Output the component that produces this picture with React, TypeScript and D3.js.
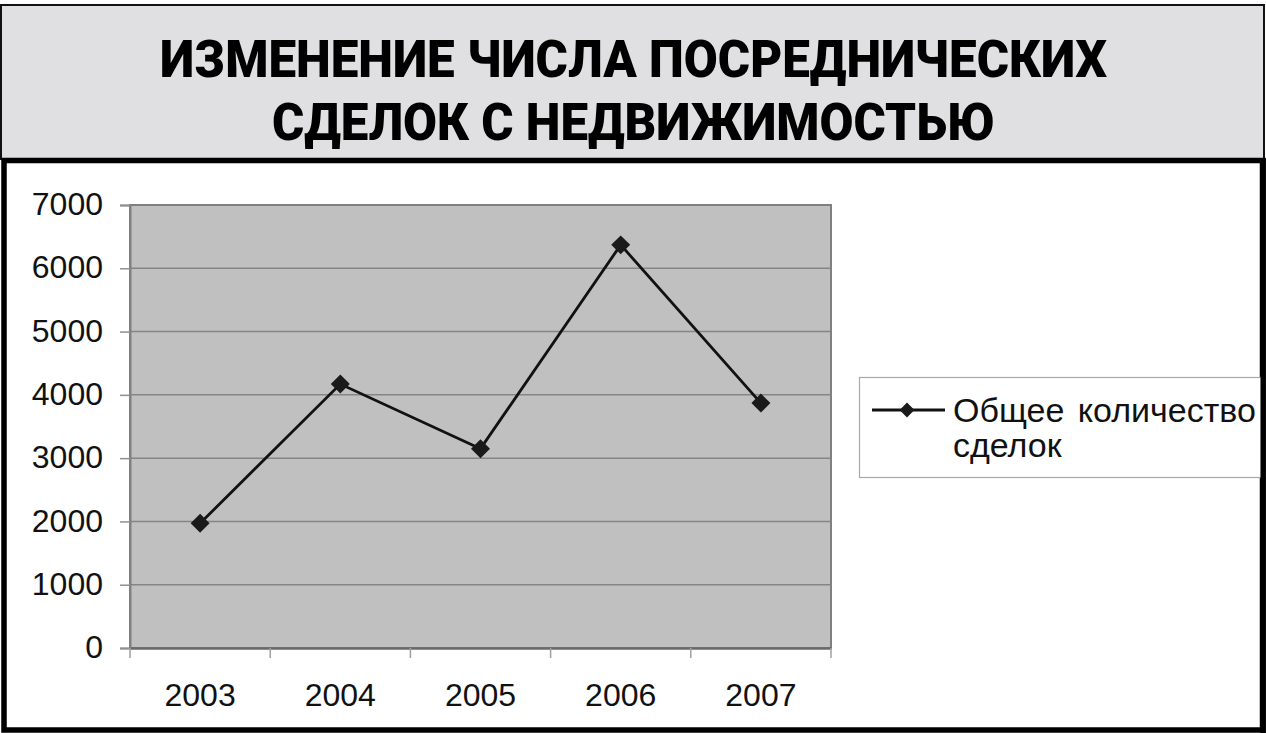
import * as d3 from "d3";
import { useEffect, useRef } from "react";

// chart data
const years = ["2003", "2004", "2005", "2006", "2007"];
const deals = [1970, 4170, 3150, 6370, 3870];
const yTicks = [0, 1000, 2000, 3000, 4000, 5000, 6000, 7000];
const titleLines = ["ИЗМЕНЕНИЕ ЧИСЛА ПОСРЕДНИЧЕСКИХ", "СДЕЛОК С НЕДВИЖИМОСТЬЮ"];
const legendLines = ["Общее количество", "сделок"];

function Chart() {
    const ref = useRef(null);

    useEffect(() => {
        const W = 1266, H = 733;
        const svg = d3.select(ref.current);
        svg.selectAll("*").remove();

        // title panel
        svg.append("rect")
            .attr("x", 1).attr("y", 5).attr("width", 1263).attr("height", 154)
            .attr("fill", "#e0e0e2").attr("stroke", "#111").attr("stroke-width", 2);

        const titleX = [[160, 947], [272, 723]];
        svg.selectAll(".title")
            .data(titleLines)
            .enter()
            .append("text")
            .attr("class", "title")
            .attr("x", (d, i) => titleX[i][0])
            .attr("y", (d, i) => i === 0 ? 77 : 140)
            .attr("textLength", (d, i) => titleX[i][1])
            .attr("lengthAdjust", "spacingAndGlyphs")
            .attr("font-family", "Roboto, 'DejaVu Sans', sans-serif")
            .attr("font-weight", 900)
            .attr("font-size", 51)
            .attr("fill", "#000")
            .text(d => d);

        // chart panel
        svg.append("rect")
            .attr("x", 4).attr("y", 160.5).attr("width", 1258.5).attr("height", 569.5)
            .attr("fill", "#fff").attr("stroke", "#000").attr("stroke-width", 5.5);

        const margin = { left: 130, right: W - 831, top: 205, bottom: H - 648 };

        const x = d3.scaleBand()
            .domain(years)
            .range([margin.left, W - margin.right])
            .padding(0);

        const y = d3.scaleLinear()
            .domain([0, 7000])
            .range([H - margin.bottom, margin.top]);

        // plot area
        svg.append("rect")
            .attr("x", margin.left).attr("y", y(7000))
            .attr("width", x.range()[1] - margin.left).attr("height", y(0) - y(7000))
            .attr("fill", "#c0c0c0").attr("stroke", "#808080").attr("stroke-width", 2);

        // gridlines
        svg.append("g")
            .selectAll("line")
            .data(yTicks.filter(t => t > 0 && t < 7000))
            .enter()
            .append("line")
            .attr("x1", margin.left).attr("x2", x.range()[1])
            .attr("y1", d => y(d)).attr("y2", d => y(d))
            .attr("stroke", "#858585").attr("stroke-width", 1.5);

        const fontAxis = "'Liberation Sans', Arial, sans-serif";

        // y axis
        const yAxis = svg.append("g")
            .attr("transform", `translate(${margin.left},0)`)
            .call(d3.axisLeft(y).tickValues(yTicks).tickSize(10).tickPadding(17).tickFormat(d3.format("d")));
        yAxis.select(".domain").attr("stroke", "#808080").attr("stroke-width", 2);
        yAxis.selectAll(".tick line").attr("stroke", "#909090").attr("stroke-width", 1.5);
        yAxis.selectAll(".tick text")
            .attr("font-family", fontAxis).attr("font-size", 32).attr("fill", "#111")
            .attr("dy", "0.3em");

        // x axis
        const xAxis = svg.append("g")
            .attr("transform", `translate(0,${y(0)})`)
            .call(d3.axisBottom(x).tickSize(0).tickPadding(35));
        xAxis.select(".domain").attr("stroke", "#6a6a6a").attr("stroke-width", 2.5);
        xAxis.selectAll(".tick text")
            .attr("font-family", fontAxis).attr("font-size", 32).attr("fill", "#111");

        svg.append("g")
            .selectAll("line")
            .data(years.concat(["end"]))
            .enter()
            .append("line")
            .attr("x1", (d, i) => margin.left + i * x.bandwidth())
            .attr("x2", (d, i) => margin.left + i * x.bandwidth())
            .attr("y1", y(0)).attr("y2", y(0) + 10)
            .attr("stroke", "#a0a0a0").attr("stroke-width", 1.5);

        // series line
        const cx = (d: string) => x(d)! + x.bandwidth() / 2;
        const line = d3.line<number>()
            .x((d, i) => cx(years[i]))
            .y(d => y(d));

        svg.append("path")
            .datum(deals)
            .attr("d", line)
            .attr("fill", "none").attr("stroke", "#111").attr("stroke-width", 2.8);

        const diamond = d3.symbol().type(d3.symbolSquare).size(180);
        svg.append("g")
            .selectAll("path")
            .data(deals)
            .enter()
            .append("path")
            .attr("d", diamond)
            .attr("transform", (d, i) => `translate(${cx(years[i])},${y(d)}) rotate(45)`)
            .attr("fill", "#1a1a1a");

        // legend
        const lg = svg.append("g");
        lg.append("rect")
            .attr("x", 859.5).attr("y", 377.5).attr("width", 410).attr("height", 100)
            .attr("fill", "#fff").attr("stroke", "#a8a8a8").attr("stroke-width", 1.2);
        lg.append("line")
            .attr("x1", 872).attr("x2", 945).attr("y1", 410).attr("y2", 410)
            .attr("stroke", "#111").attr("stroke-width", 2.8);
        lg.append("path")
            .attr("d", d3.symbol().type(d3.symbolSquare).size(110)())
            .attr("transform", "translate(907,410) rotate(45)")
            .attr("fill", "#1a1a1a");
        lg.selectAll("text")
            .data(legendLines)
            .enter()
            .append("text")
            .attr("x", 953)
            .attr("y", (d, i) => 422 + i * 35)
            .attr("font-family", fontAxis).attr("font-size", 34).attr("fill", "#111")
            .attr("word-spacing", 4)
            .text(d => d);

        // redraw chart-panel border on top so the legend is clipped by it
        svg.append("line")
            .attr("x1", 1263.2).attr("x2", 1263.2).attr("y1", 158).attr("y2", 733)
            .attr("stroke", "#000").attr("stroke-width", 5.5);
    }, []);

    return <svg width={1266} height={733} ref={ref}
        style={{ position: "absolute", left: 0, top: 0, background: "#fff" }} />;
}

export default function App() {
    return <Chart />;
}
